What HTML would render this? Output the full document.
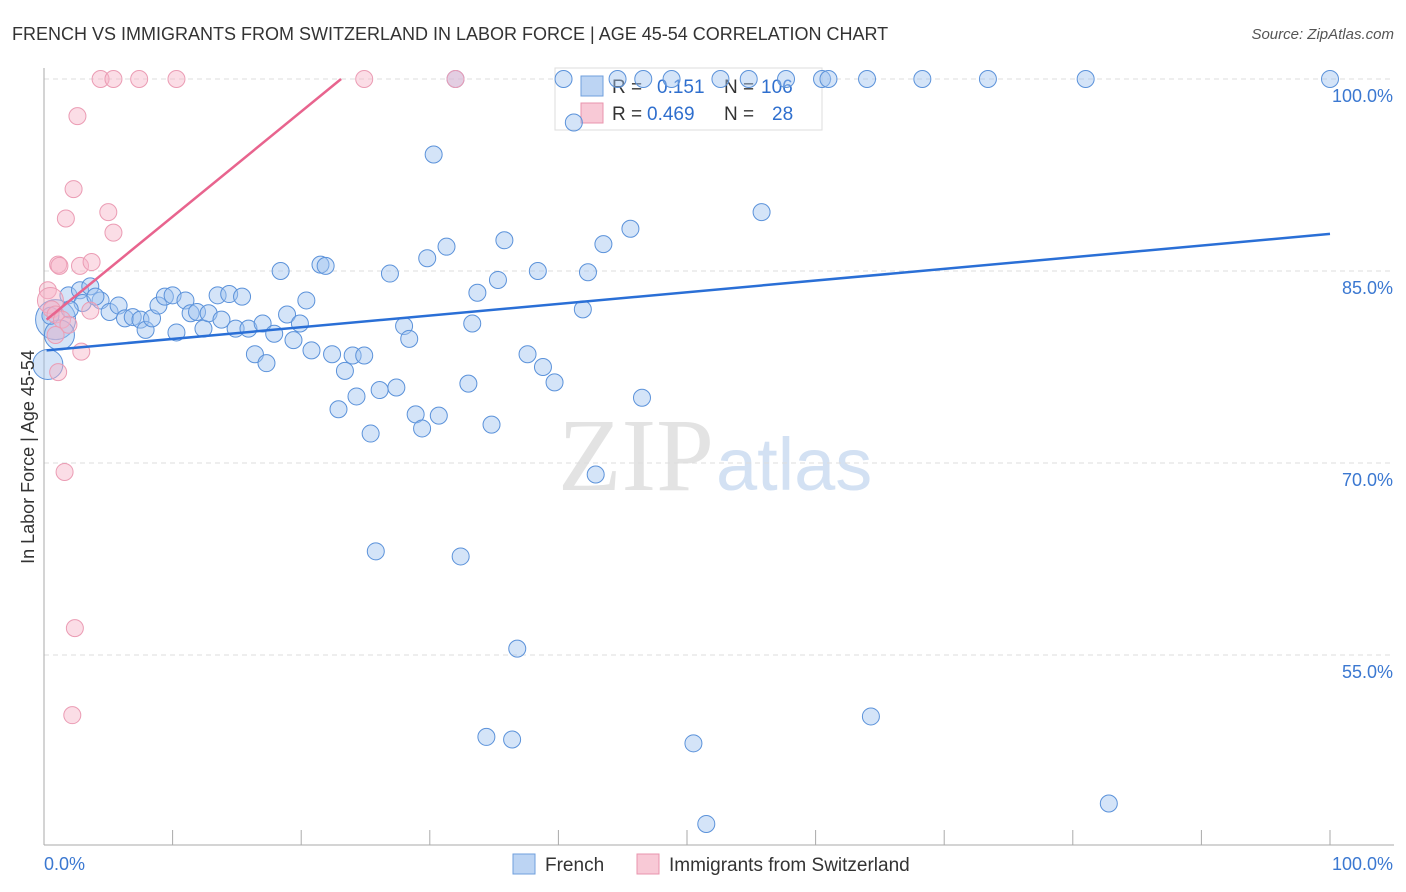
<!DOCTYPE html>
<html><head><meta charset="utf-8"><style>
body{margin:0;background:#fff;font-family:"Liberation Sans",sans-serif;}
svg{display:block}
</style></head><body>
<svg width="1406" height="892">
<text x="12" y="40" font-size="18" fill="#333">FRENCH VS IMMIGRANTS FROM SWITZERLAND IN LABOR FORCE | AGE 45-54 CORRELATION CHART</text>
<text x="1394" y="39" font-size="15" fill="#555" text-anchor="end" font-style="italic">Source: ZipAtlas.com</text>
<text x="714" y="490" font-size="104" fill="#e3e3e3" text-anchor="end" font-family="Liberation Serif">ZIP</text>
<text x="716" y="490" font-size="74" fill="#d3e1f3">atlas</text>
<g id="grid"></g><g id="axes"></g>
<g>
<rect x="555" y="68" width="267" height="62" fill="#fff" stroke="#ddd"/>
<rect x="581" y="76" width="22" height="20" fill="#bcd4f3" stroke="#6f9fdc"/>
<rect x="581" y="103" width="22" height="20" fill="#f8c9d6" stroke="#e994ad"/>
<text x="612" y="93" font-size="19" fill="#333">R = </text><text x="657" y="93" font-size="19" fill="#2f6fce">0.151</text>
<text x="724" y="93" font-size="19" fill="#333">N = </text><text x="761" y="93" font-size="19" fill="#2f6fce">106</text>
<text x="612" y="120" font-size="19" fill="#333">R = </text><text x="647" y="120" font-size="19" fill="#2f6fce">0.469</text>
<text x="724" y="120" font-size="19" fill="#333">N = </text><text x="772" y="120" font-size="19" fill="#2f6fce">28</text>
</g>
<g id="pts"></g><g id="trend"></g>
<text transform="translate(34,457) rotate(-90)" font-size="18" fill="#333" text-anchor="middle">In Labor Force | Age 45-54</text>
<g>
<rect x="513" y="854" width="22" height="20" fill="#bcd4f3" stroke="#6f9fdc"/>
<text x="545" y="871" font-size="19" fill="#333">French</text>
<rect x="637" y="854" width="22" height="20" fill="#f8c9d6" stroke="#e994ad"/>
<text x="669" y="871" font-size="19" fill="#333">Immigrants from Switzerland</text>
</g>
</svg>
<script>
const yTicks=[100,85,70,55];
const yTickLabels=["100.0%","85.0%","70.0%","55.0%"];
const frenchX=[40.4,44.6,46.6,48.8,52.6,54.8,57.7,60.5,61.0,64.0,68.3,73.4,81.0,100,32.0,41.2,30.3,55.8,45.6,35.8,31.3,43.5,29.8,18.4,21.5,21.9,26.9,38.4,42.3,35.3,33.7,20.4,41.9,33.3,28.0,28.4,37.6,38.8,39.7,33.0,27.4,26.1,46.5,24.3,22.9,28.9,30.7,29.4,34.8,25.4,42.9,25.8,32.4,36.8,34.4,36.4,50.5,64.3,82.8,51.5,
0.9,1.2,0.3,1.9,2.8,3.6,4.4,5.1,5.8,6.3,6.9,7.5,7.9,8.4,8.9,9.4,10.0,10.3,11.0,11.4,11.9,12.4,12.8,13.5,13.8,14.4,14.9,15.4,15.9,16.4,17.0,17.3,17.9,18.9,19.4,19.9,20.8,22.4,23.4,24.0,24.9,3.0,4.0,2.0,0.5];
const frenchY=[100,100,100,100,100,100,100,100,100,100,100,100,100,100,100,96.6,94.1,89.6,88.3,87.4,86.9,87.1,86.0,85.0,85.5,85.4,84.8,85.0,84.9,84.3,83.3,82.7,82.0,80.9,80.7,79.7,78.5,77.5,76.3,76.2,75.9,75.7,75.1,75.2,74.2,73.8,73.7,72.7,73.0,72.3,69.1,63.1,62.7,55.5,48.6,48.4,48.1,50.2,43.4,41.8,
81.2,80.0,77.7,83.1,83.5,83.8,82.7,81.8,82.3,81.3,81.4,81.2,80.4,81.3,82.3,83.0,83.1,80.2,82.7,81.7,81.8,80.5,81.7,83.1,81.2,83.2,80.5,83.0,80.5,78.5,80.9,77.8,80.1,81.6,79.6,80.9,78.8,78.5,77.2,78.4,78.4,82.5,83.0,82.0,81.5];
const frenchR=[];frenchX.forEach((v,i)=>frenchR.push(i==60?20:(i==61||i==62?15:8.5)));
const swissX=[4.4,5.4,7.4,10.3,24.9,32.0,2.6,2.3,5.0,1.7,5.4,1.1,1.2,2.8,3.7,0.3,0.5,0.6,0.9,1.4,3.6,1.9,0.9,2.9,1.1,1.6,2.4,2.2];
const swissY=[100,100,100,100,100,100,97.1,91.4,89.6,89.1,88.0,85.5,85.4,85.4,85.7,83.5,82.7,82.0,81.6,81.2,81.9,80.8,80.0,78.7,77.1,69.3,57.1,50.3];
const frenchTrend=[[0.2,78.8],[100,87.9]];
const swissTrend=[[0.2,81.2],[23.1,100]];
const sx=v=>44+v*12.86, sy=v=>79+(100-v)*12.8;
const NS="http://www.w3.org/2000/svg";
function mk(tag,at,parent){const e=document.createElementNS(NS,tag);for(const k in at)e.setAttribute(k,at[k]);document.getElementById(parent).appendChild(e);return e;}
yTicks.forEach((t,i)=>{
 const l=mk('line',{x1:44,x2:1394,y1:sy(t),y2:sy(t),stroke:'#ddd','stroke-dasharray':'5,4'},'grid');
 
 
 const tx=mk('text',{x:1393,y:sy(t)+23,'font-size':18,fill:'#3b78d1','text-anchor':'end'},'grid');
 tx.textContent=yTickLabels[i];
 
 
});
const ya=mk('line',{x1:44,x2:44,y1:68,y2:845,stroke:'#aaa'},'axes');


const xa=mk('line',{x1:44,x2:1394,y1:845,y2:845,stroke:'#aaa'},'axes');


for(let i=1;i<=10;i++){const t=mk('line',{x1:44+i*128.6,x2:44+i*128.6,y1:830,y2:845,stroke:'#aaa'},'axes');
 
 }
[[44,'start','0.0%'],[1393,'end','100.0%']].forEach(a=>{const t=mk('text',{x:a[0],y:870,'font-size':18,fill:'#3b78d1','text-anchor':a[1]},'axes');t.textContent=a[2];
 
 });
frenchX.forEach((v,i)=>{const c=mk('circle',{cx:sx(v),cy:sy(frenchY[i]),r:frenchR[i],fill:'rgba(160,196,240,0.45)',stroke:'#5b92da','stroke-width':1},'pts');
 
 });
swissX.forEach((v,i)=>{const c=mk('circle',{cx:sx(v),cy:sy(swissY[i]),r:(i==16?13:8.5),fill:'rgba(246,180,200,0.45)',stroke:'#eb9cb4','stroke-width':1},'pts');
 
 });
const t1=mk('line',{x1:sx(frenchTrend[0][0]),y1:sy(frenchTrend[0][1]),x2:sx(frenchTrend[1][0]),y2:sy(frenchTrend[1][1]),stroke:'#2a6fd6','stroke-width':2.5},'trend');


const t2=mk('line',{x1:sx(swissTrend[0][0]),y1:sy(swissTrend[0][1]),x2:sx(swissTrend[1][0]),y2:sy(swissTrend[1][1]),stroke:'#e8648e','stroke-width':2.5},'trend');


</script>
</body></html>
